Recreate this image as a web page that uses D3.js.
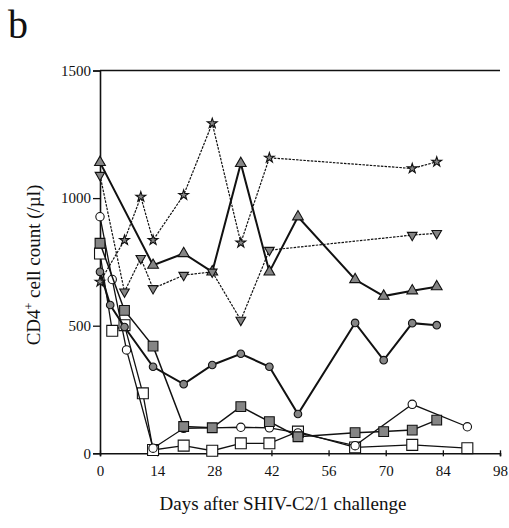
<!DOCTYPE html>
<html>
<head>
<meta charset="utf-8">
<script src="https://cdn.jsdelivr.net/npm/d3@7"></script>
<style>
    body { margin: 0; background: #fff; }
    svg { display: block; }
    svg text { font-family: "Liberation Serif", "DejaVu Serif", serif; }
</style>
</head>
<body>
<div id="chart"><svg></svg></div>
<script>
// Values (days after challenge, CD4+ cells per ul).
var xTicks = [0, 14, 28, 42, 56, 70, 84, 98];
var yTicks = [0, 500, 1000, 1500];

var starDays = [0, 6, 10, 13, 20.5, 27.5, 34.5, 41.5, 76.5, 82.5];
var starVals = [672, 835, 1005, 835, 1012, 1293, 825, 1158, 1116, 1142];

var downTriDays = [0, 6, 10, 13, 20.5, 27.5, 34.5, 41.5, 76.5, 82.5];
var downTriVals = [1090, 633, 764, 646, 698, 711, 522, 796, 855, 862];

var upTriDays = [0, 13, 20.5, 27.5, 34.5, 41.5, 48.5, 62.5, 69.5, 76.5, 82.5];
var upTriVals = [1140, 737, 783, 711, 1136, 711, 927, 681, 616, 637, 653];

var grayCircleDays = [0, 2.5, 6, 13, 20.5, 27.5, 34.5, 41.5, 48.5, 62.5, 69.5, 76.5, 82.5];
var grayCircleVals = [711, 581, 495, 339, 271, 346, 390, 339, 154, 511, 365, 510, 502];

var graySquareDays = [0, 6, 13, 20.5, 27.5, 34.5, 41.5, 48.5, 62.5, 69.5, 76.5, 82.5];
var graySquareVals = [823, 560, 420, 105, 100, 183, 124, 65, 81, 85, 91, 130];

var openCircleDays = [0, 3, 6.5, 13, 20.5, 27.5, 34.5, 41.5, 48.5, 62.5, 76.5, 90];
var openCircleVals = [927, 681, 405, 20, 98, 100, 102, 100, 80, 30, 192, 104];

var openSquareDays = [0, 3, 6, 10.5, 13, 20.5, 27.5, 34.5, 41.5, 48.5, 62.5, 76.5, 90];
var openSquareVals = [783, 480, 502, 235, 13, 30, 10, 39, 39, 85, 23, 33, 20];

function CD4Chart(root) {
    this.svg = d3.select(root).select('svg');
    this.width = 509;
    this.height = 528;
    this.x = d3.scaleLinear().domain([0, 98]).range([100, 500]);
    this.y = d3.scaleLinear().domain([0, 1500]).range([453.3, 70.5]);
    this.font = '"Liberation Serif", "DejaVu Serif", serif';

    this.svg
        .attr('width', this.width)
        .attr('height', this.height)
        .attr('font-family', this.font);

    this._drawAxes();
    this._drawSeries();
    this._drawLabels();
}

CD4Chart.prototype._drawAxes = function() {
    var x = this.x, y = this.y;

    var xAxis = this.svg.append('g')
        .attr('transform', 'translate(0,' + y(0) + ')')
        .call(d3.axisBottom(x).tickValues(xTicks).tickSize(3).tickPadding(9)
            .tickFormat(d3.format('d')));
    xAxis.selectAll('.tick line').attr('y1', -3);

    var yAxis = this.svg.append('g')
        .attr('transform', 'translate(' + x(0) + ',0)')
        .call(d3.axisLeft(y).tickValues(yTicks).tickSize(7).tickPadding(2)
            .tickFormat(d3.format('d')));

    var font = this.font;
    [xAxis, yAxis].forEach(function(g) {
        g.attr('font-family', font).attr('font-size', 15);
        g.select('.domain').attr('stroke', '#111').attr('stroke-width', 1.6);
        g.selectAll('.tick line').attr('stroke', '#111').attr('stroke-width', 1.3);
        g.selectAll('text')
            .attr('fill', '#111')
            .attr('font-family', font)
            .attr('font-size', 15);
    });

    // Top frame line.
    this.svg.append('line')
        .attr('x1', x(0)).attr('x2', x(98))
        .attr('y1', y(1500)).attr('y2', y(1500))
        .attr('stroke', '#111')
        .attr('stroke-width', 1.6);
};

CD4Chart.prototype._drawSeries = function() {
    var series = [
        { days: openSquareDays, vals: openSquareVals, shape: d3.symbolSquare, size: 120, fill: '#fff', width: 1.3, dash: null },
        { days: openCircleDays, vals: openCircleVals, shape: d3.symbolCircle, size: 55, fill: '#fff', width: 1.3, dash: null },
        { days: graySquareDays, vals: graySquareVals, shape: d3.symbolSquare, size: 95, fill: '#858585', width: 1.5, dash: null },
        { days: grayCircleDays, vals: grayCircleVals, shape: d3.symbolCircle, size: 45, fill: '#858585', width: 2, dash: null },
        { days: upTriDays, vals: upTriVals, shape: d3.symbolTriangle, size: 50, fill: '#858585', width: 2, dash: null },
        { days: downTriDays, vals: downTriVals, shape: d3.symbolTriangle, size: 40, fill: '#858585', width: 1.2, dash: '2.5,1.2', flip: true },
        { days: starDays, vals: starVals, shape: d3.symbolStar, size: 30, fill: '#858585', width: 1.2, dash: '2.5,1.2' }
    ];

    var x = this.x, y = this.y;
    var line = d3.line()
        .x(function(d) { return x(d[0]); })
        .y(function(d) { return y(d[1]); });

    series.forEach(function(s) {
        var pts = s.days.map(function(d, i) { return [d, s.vals[i]]; });

        this.svg.append('path')
            .datum(pts)
            .attr('d', line)
            .attr('fill', 'none')
            .attr('stroke', '#111')
            .attr('stroke-width', s.width)
            .attr('stroke-dasharray', s.dash);

        this.svg.append('g').selectAll('path')
            .data(pts)
            .enter().append('path')
            .attr('d', d3.symbol().type(s.shape).size(s.size))
            .attr('transform', function(d) {
                return 'translate(' + x(d[0]) + ',' + y(d[1]) + ')' + (s.flip ? ' rotate(180)' : '');
            })
            .attr('fill', s.fill)
            .attr('stroke', '#111')
            .attr('stroke-width', 1.1);
    }.bind(this));
};

CD4Chart.prototype._drawLabels = function() {
    this.svg.append('text')
        .attr('x', 8)
        .attr('y', 38)
        .attr('font-size', 40)
        .attr('fill', '#111')
        .text('b');

    this.svg.append('text')
        .attr('x', 283)
        .attr('y', 510)
        .attr('text-anchor', 'middle')
        .attr('font-size', 19)
        .attr('fill', '#111')
        .text('Days after SHIV-C2/1 challenge');

    var yTitle = this.svg.append('text')
        .attr('transform', 'translate(40,265) rotate(-90)')
        .attr('text-anchor', 'middle')
        .attr('font-size', 19)
        .attr('fill', '#111');
    yTitle.append('tspan').text('CD4');
    yTitle.append('tspan')
        .attr('baseline-shift', 'super')
        .attr('font-size', 12)
        .text('+');
    yTitle.append('tspan').text(' cell count (/\u00b5l)');
};

var chart = new CD4Chart('#chart');
</script>
</body>
</html>
